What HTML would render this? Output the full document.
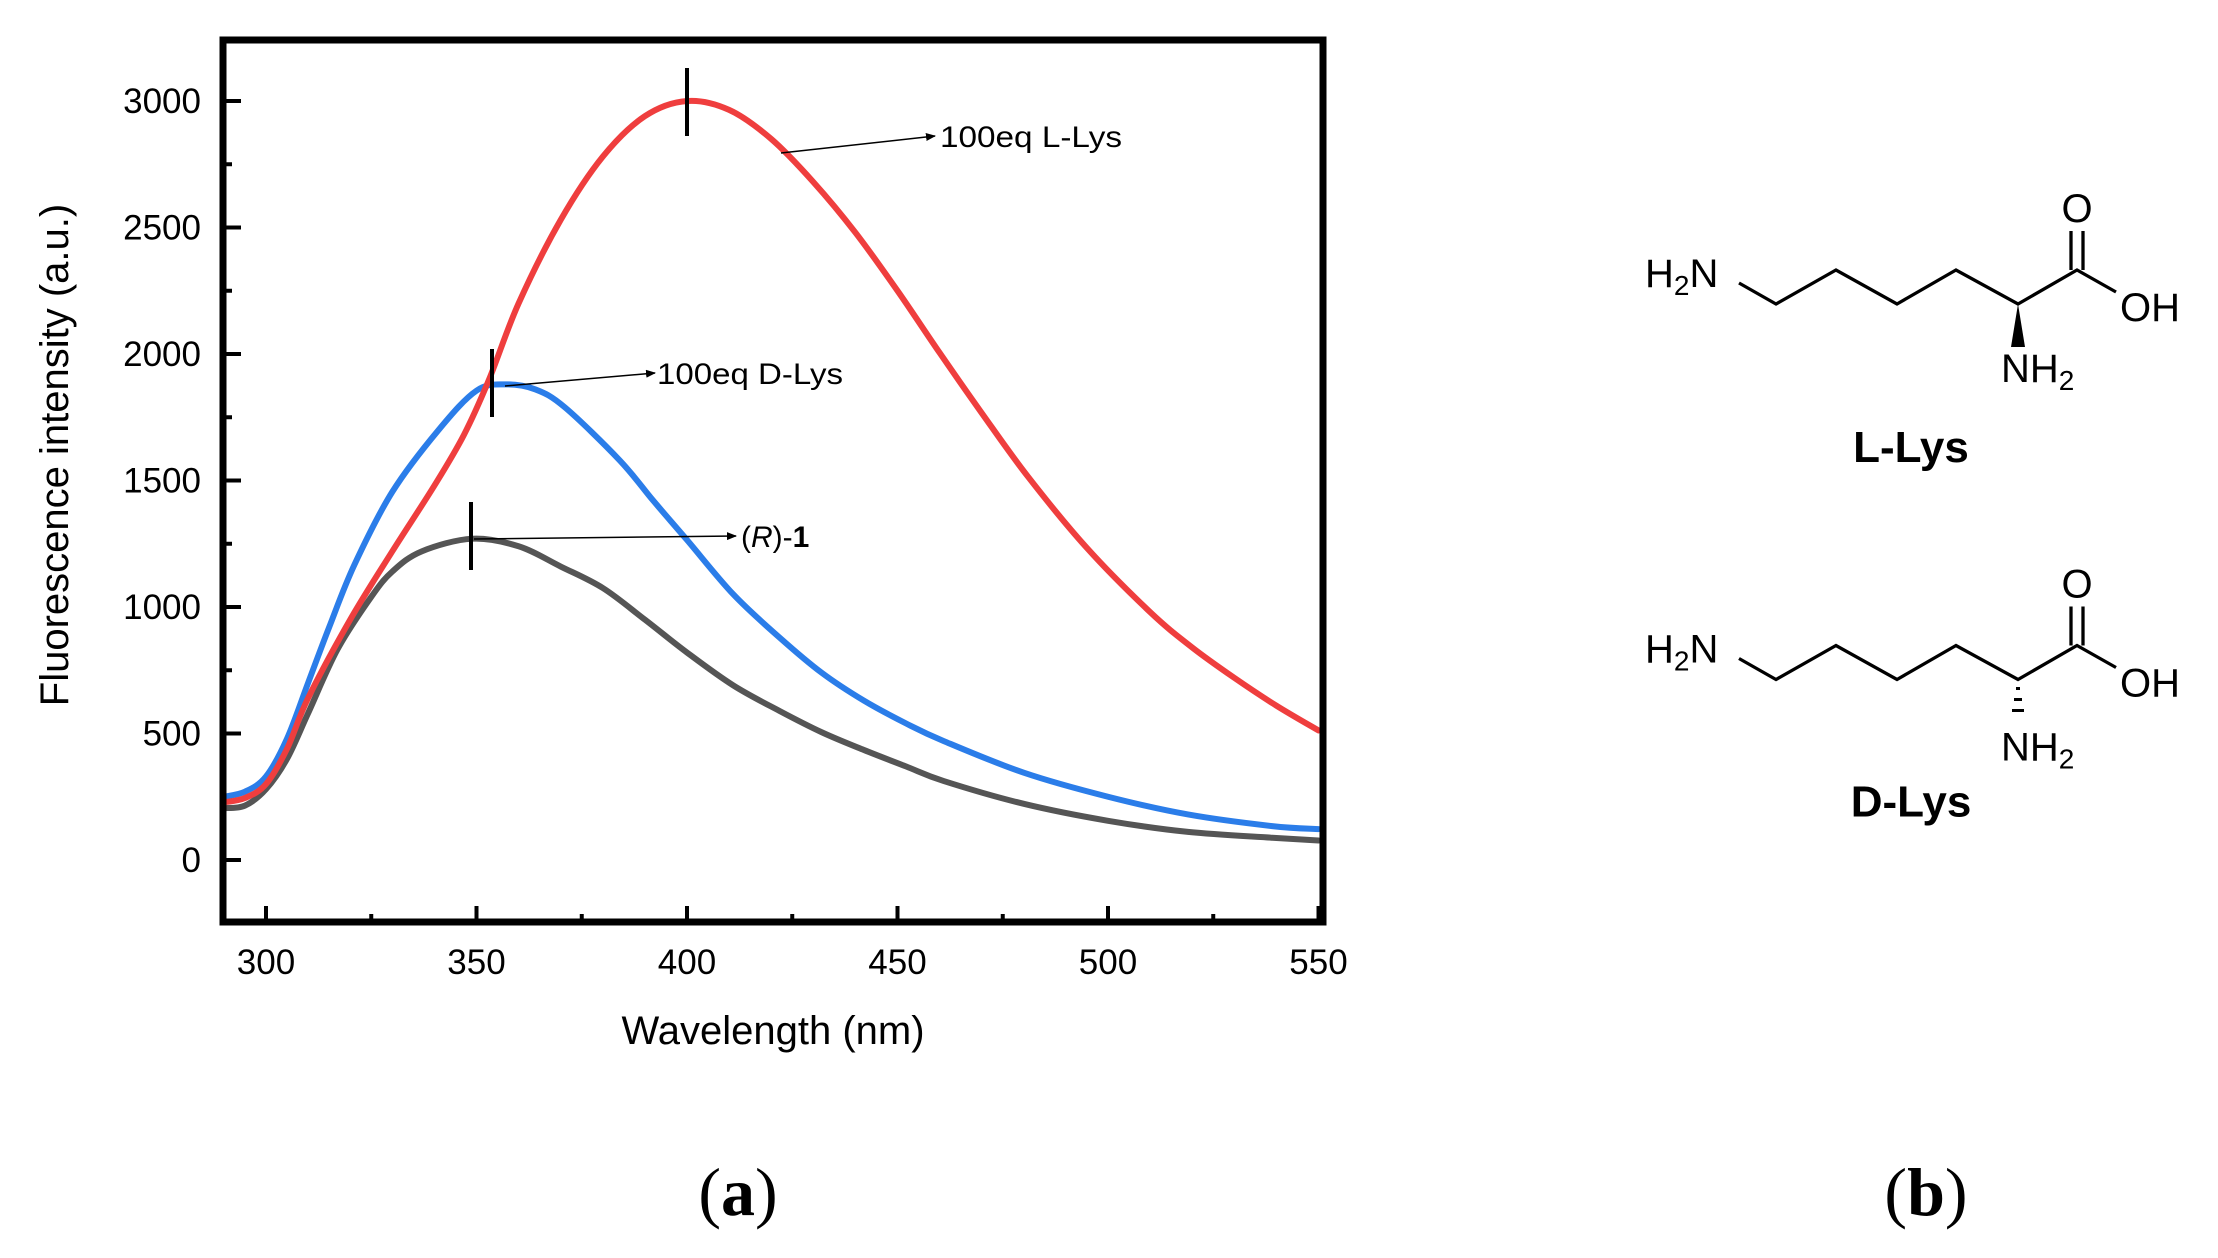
<!DOCTYPE html>
<html><head><meta charset="utf-8"><style>
html,body{margin:0;padding:0;background:#fff}
svg{display:block}
</style></head><body>
<svg id="s" width="2218" height="1258" viewBox="0 0 2218 1258" xmlns="http://www.w3.org/2000/svg" font-family="Liberation Sans, sans-serif">
<defs><marker id="ar" markerWidth="10" markerHeight="8" refX="9" refY="4" orient="auto" markerUnits="userSpaceOnUse"><path d="M0,0 L10,4 L0,8 z" fill="#000"/></marker></defs>
<g id="ticks" stroke="#000" stroke-width="4"></g>
<g id="curves" fill="none" stroke-width="6" stroke-linejoin="round" stroke-linecap="round"></g>
<rect x="223" y="40" width="1100" height="882" fill="none" stroke="#000" stroke-width="7"/>
<g id="labels" font-size="35" fill="#000"></g>
<text x="773" y="1044" font-size="40" text-anchor="middle">Wavelength (nm)</text>
<text transform="translate(68,455) rotate(-90)" font-size="40" text-anchor="middle">Fluorescence intensity (a.u.)</text>
<g stroke="#000" stroke-width="4">
<line x1="687" y1="68" x2="687" y2="136"/>
<line x1="492" y1="349" x2="492" y2="417"/>
<line x1="471" y1="502" x2="471" y2="570"/>
</g>
<g stroke="#000" stroke-width="1.5" marker-end="url(#ar)">
<line x1="781" y1="153" x2="935" y2="136"/>
<line x1="505" y1="386" x2="655" y2="373"/>
<line x1="474" y1="539" x2="736" y2="536"/>
</g>
<g font-size="30">
<text x="940" y="147" textLength="182" lengthAdjust="spacingAndGlyphs">100eq L-Lys</text>
<text x="657" y="384" textLength="186" lengthAdjust="spacingAndGlyphs">100eq D-Lys</text>
<text x="741" y="547">(<tspan font-style="italic">R</tspan>)-<tspan font-weight="bold">1</tspan></text>
</g>
<text x="738" y="1215" text-anchor="middle" font-family="Liberation Serif, serif" font-size="68">(<tspan font-weight="bold">a</tspan>)</text>
<text x="1926" y="1215" text-anchor="middle" font-family="Liberation Serif, serif" font-size="68">(<tspan font-weight="bold">b</tspan>)</text>
<g>
<polyline fill="none" stroke="#000" stroke-width="3.3" points="1739,283 1776,304 1836,270 1897,304 1956,270 2018,304 2077,270 2116,292"/>
<line x1="2071" y1="270" x2="2071" y2="231" stroke="#000" stroke-width="3.3"/>
<line x1="2083" y1="270" x2="2083" y2="231" stroke="#000" stroke-width="3.3"/>
<text x="1645" y="287" font-size="40">H<tspan font-size="28" dy="8">2</tspan><tspan dy="-8">N</tspan></text>
<text x="2077" y="222" font-size="40" text-anchor="middle">O</text>
<text x="2120" y="321" font-size="40">OH</text>
<path d="M2018,304 L2011,347 L2025,347 Z" fill="#000"/>
<text x="2001" y="382" font-size="40">NH<tspan font-size="28" dy="8">2</tspan></text>
<text x="1911" y="462" font-size="44" font-weight="bold" text-anchor="middle">L-Lys</text>
</g>
<g transform="translate(0,375.5)">
<polyline fill="none" stroke="#000" stroke-width="3.3" points="1739,283 1776,304 1836,270 1897,304 1956,270 2018,304 2077,270 2116,292"/>
<line x1="2071" y1="270" x2="2071" y2="231" stroke="#000" stroke-width="3.3"/>
<line x1="2083" y1="270" x2="2083" y2="231" stroke="#000" stroke-width="3.3"/>
<text x="1645" y="287" font-size="40">H<tspan font-size="28" dy="8">2</tspan><tspan dy="-8">N</tspan></text>
<text x="2077" y="222" font-size="40" text-anchor="middle">O</text>
<text x="2120" y="321" font-size="40">OH</text>
<g stroke="#000" stroke-width="3">
<line x1="2016" y1="313" x2="2020" y2="313"/>
<line x1="2014" y1="324" x2="2022" y2="324"/>
<line x1="2012" y1="335" x2="2024" y2="335"/>
</g>
<text x="2001" y="385" font-size="40">NH<tspan font-size="28" dy="8">2</tspan></text>
<text x="1911" y="441" font-size="44" font-weight="bold" text-anchor="middle">D-Lys</text>
</g>
</svg>
<script>
var NS="http://www.w3.org/2000/svg";
function X(x){return 266+(x-300)*4.21;}
function Y(v){return 860-v*0.253;}
var t=document.getElementById('ticks'),l=document.getElementById('labels');
function ln(x1,y1,x2,y2){var e=document.createElementNS(NS,'line');e.setAttribute('x1',x1);e.setAttribute('y1',y1);e.setAttribute('x2',x2);e.setAttribute('y2',y2);t.appendChild(e);}
function tx(x,y,s,a){var e=document.createElementNS(NS,'text');e.setAttribute('x',x);e.setAttribute('y',y);e.setAttribute('text-anchor',a);e.textContent=s;l.appendChild(e);}
for(var x=300;x<=550;x+=25){var maj=x%50==0;ln(X(x),922,X(x),922-(maj?16:8));if(maj)tx(X(x),974,x,'middle');}
for(var v=0;v<=3250;v+=250){var maj=v%500==0;if(Y(v)<44)continue;ln(223,Y(v),223+(maj?18:9),Y(v));if(maj)tx(201,Y(v)+12,v,'end');}
var D={
'#555555':[[290,205],[295,215],[300,280],[305,400],[310,580],[317,833],[325,1040],[330,1140],[337,1220],[349,1270],[360,1240],[370,1160],[380,1075],[390,950],[400,820],[411,690],[422,589],[432,505],[442,435],[452,370],[461,312],[480,222],[500,155],[519,111],[539,88],[550,77]],
'#2b7de9':[[290,250],[295,270],[300,330],[305,480],[310,700],[315,920],[321,1167],[330,1455],[341,1700],[350,1855],[357,1880],[364,1860],[371,1789],[384,1580],[392,1420],[400,1265],[411,1050],[422,879],[432,740],[442,630],[452,540],[461,470],[480,345],[500,250],[519,180],[539,134],[550,122]],
'#ef3e3e':[[290,228],[295,245],[300,300],[305,440],[310,640],[320,950],[330,1220],[340,1480],[347,1680],[353,1900],[360,2200],[370,2530],[380,2780],[390,2940],[400,3000],[410,2965],[420,2850],[430,2680],[440,2480],[450,2250],[460,2005],[470,1767],[481,1515],[495,1233],[510,980],[520,840],[530,720],[540,610],[550,512]]};
var g=document.getElementById('curves');
for(var c in D){var p=D[c].map(function(a){return [X(a[0]),Y(a[1])];});
var d='M'+p[0][0]+','+p[0][1];
for(var i=0;i<p.length-1;i++){var p0=p[i-1]||p[i],p1=p[i],p2=p[i+1],p3=p[i+2]||p2;
d+=' C'+(p1[0]+(p2[0]-p0[0])/6)+','+(p1[1]+(p2[1]-p0[1])/6)+' '+(p2[0]-(p3[0]-p1[0])/6)+','+(p2[1]-(p3[1]-p1[1])/6)+' '+p2[0]+','+p2[1];}
var e=document.createElementNS(NS,'path');e.setAttribute('d',d);e.setAttribute('stroke',c);g.appendChild(e);}
</script>
</body></html>
